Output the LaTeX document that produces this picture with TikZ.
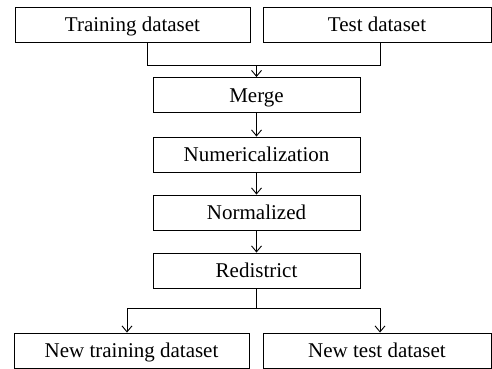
\documentclass[tikz,border=0pt]{standalone}
\usepackage{fontspec}
\setmainfont{Liberation Serif}
\usetikzlibrary{arrows.meta}
\begin{document}
\begin{tikzpicture}[x=1pt,y=-1pt,
  stage/.style={draw, line width=0.9pt, rectangle, inner sep=0pt,
    text height=18pt, text depth=4pt,
    minimum height=35pt, font=\fontsize{21}{24}\selectfont},
  wide/.style={stage, minimum width=235pt},
  mid/.style={stage, minimum width=207pt},
  link/.style={line width=0.9pt},
  arr/.style={link, -{Straight Barb[length=6pt,width=10pt,line width=0.9pt]}}]
\useasboundingbox (0,0) rectangle (492,369);
% input datasets
\node[wide] (train) at (132.5,24.5) {Training dataset};
\node[stage, minimum width=228pt] (test) at (377,24.5) {Test dataset};
% processing chain
\node[mid] (merge) at (256.5,95) {Merge};
\node[mid] (num) at (256.5,154.5) {Numericalization};
\node[mid] (norm) at (256.5,212.5) {Normalized};
\node[mid] (redis) at (256.5,270.5) {Redistrict};
% output datasets
\node[wide] (ntrain) at (131.5,350.5) {New training dataset};
\node[stage, minimum width=228pt] (ntest) at (377,350.5) {New test dataset};
% join of the two inputs
\coordinate (jl) at (147,65);
\coordinate (jr) at (380,65);
\coordinate (jm) at (256.5,65);
\draw[link] (jl |- train.south) -- (jl) -- (jr) -- (jr |- test.south);
\draw[arr] (jm) -- (merge.north);
\draw[arr] (merge) -- (num);
\draw[arr] (num) -- (norm);
\draw[arr] (norm) -- (redis);
% split into the two outputs
\coordinate (sm) at (256.5,308);
\coordinate (sl) at (127,308);
\coordinate (sr) at (380,308);
\draw[link] (redis.south) -- (sm);
\draw[arr] (sm) -- (sl) -- (sl |- ntrain.north);
\draw[arr] (sm) -- (sr) -- (sr |- ntest.north);
\end{tikzpicture}
\end{document}
